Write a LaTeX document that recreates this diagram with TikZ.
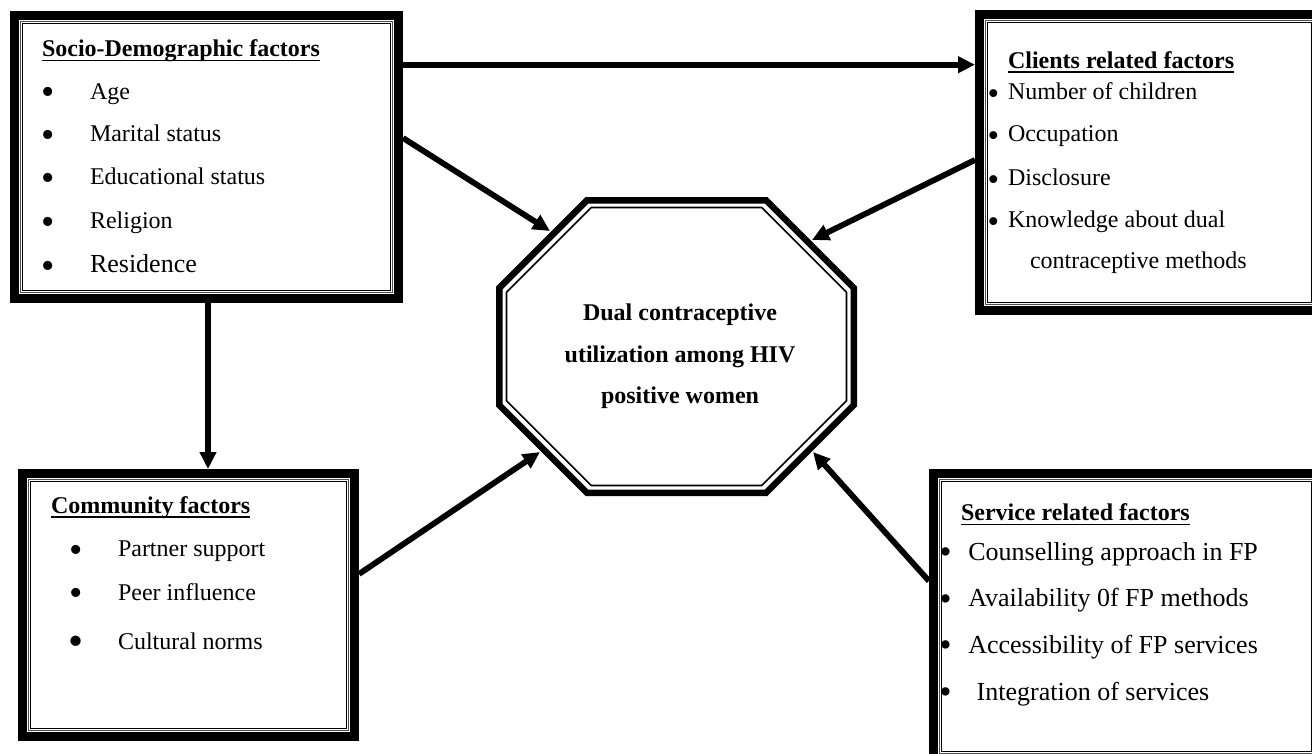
\documentclass[tikz,border=0pt]{standalone}
\usepackage{fontspec}
\setmainfont{Liberation Serif}
\usetikzlibrary{arrows.meta,calc}
\tikzset{
  boxnode/.style={draw=none, rectangle, inner sep=0pt, outer sep=0pt},
  txt/.style={inner sep=0pt, outer sep=0pt, anchor=base west, font=\fontsize{24}{28}\selectfont},
  bigtxt/.style={inner sep=0pt, outer sep=0pt, anchor=base west, font=\fontsize{26}{30}\selectfont},
  ttl/.style={inner sep=0pt, outer sep=0pt, anchor=base west, font=\fontsize{24}{28}\selectfont\bfseries},
  octtxt/.style={inner sep=0pt, outer sep=0pt, anchor=base, font=\fontsize{24}{28}\selectfont\bfseries},
  bul/.style={inner sep=0pt, outer sep=0pt, anchor=base, yshift=-5.9pt, font=\fontsize{38}{40}\selectfont},
  smallbul/.style={inner sep=0pt, outer sep=0pt, anchor=base, yshift=-5pt, font=\fontsize{33}{36}\selectfont},
  servbul/.style={inner sep=0pt, outer sep=0pt, anchor=base, yshift=-3.5pt, font=\fontsize{35}{38}\selectfont},
  bigbul/.style={inner sep=0pt, outer sep=0pt, anchor=base, yshift=-6pt, font=\fontsize{43}{45}\selectfont},
  arr/.style={line width=5.8pt, -{Triangle[length=17pt, width=16pt]}},
  uline/.style={line width=1.4pt},
  outerline/.style={line width=9pt, line join=miter},
  midline/.style={line width=0.9pt, draw=black!70},
  innerline/.style={line width=1.3pt},
}
\newcommand\tripframe[1]{%
  \draw[outerline] ([shift={(4.5,4.5)}]#1.north west) rectangle ([shift={(-4.5,-4.5)}]#1.south east);
  \draw[midline] ([shift={(10.5,10.5)}]#1.north west) rectangle ([shift={(-10.5,-10.5)}]#1.south east);
  \draw[innerline] ([shift={(12.8,12.8)}]#1.north west) rectangle ([shift={(-12.8,-12.8)}]#1.south east);
}
\newcommand\ttlline[1]{%
  \draw[uline] ([yshift=-3.6pt]#1.base west) -- ([yshift=-3.6pt]#1.base east);
}
\begin{document}
\begin{tikzpicture}[x=1pt, y=-1pt]
\useasboundingbox (0,0) rectangle (1312,753);
\fill[white] (0,0) rectangle (1312,753);
\clip (0,0) rectangle (1312,753);

% boxes
\node[boxnode, minimum width=393pt, minimum height=292pt] (socio) at (206.5,157) {};
\node[boxnode, minimum width=349pt, minimum height=305pt] (clients) at (1149.5,162.5) {};
\node[boxnode, minimum width=341pt, minimum height=272pt] (comm) at (188.5,605) {};
\node[boxnode, minimum width=395pt, minimum height=295pt] (serv) at (1126.5,616.5) {};
\tripframe{socio}
\tripframe{clients}
\tripframe{comm}
\tripframe{serv}

% octagon
\node[boxnode, minimum width=361pt, minimum height=299pt] (oct) at (676.5,346.5) {};
\draw[line width=6.5pt, line join=miter] (586.9,200.25) -- (766.1,200.25) -- (853.75,287.9) -- (853.75,405.1) -- (766.1,492.75) -- (586.9,492.75) -- (499.25,405.1) -- (499.25,287.9) -- cycle;
\draw[line width=1.6pt, line join=miter] (591.15,207.5) -- (761.85,207.5) -- (846.5,292.15) -- (846.5,400.85) -- (761.85,485.5) -- (591.15,485.5) -- (506.5,400.85) -- (506.5,292.15) -- cycle;
\node[octtxt] (o1) at (680,320) {Dual contraceptive};
\node[octtxt] (o2) at (680,362.5) {utilization among HIV};
\node[octtxt] (o3) at (680,403.5) {positive women};
\coordinate (tNW) at (550,231);
\coordinate (tNE) at (812,240);
\coordinate (tSW) at (540,452);
\coordinate (tSE) at (813,452);

% socio-demographic text
\node[ttl] (s0) at (42,56.7) {Socio-Demographic factors};
\ttlline{s0}
\node[bul] (sb1) at (48,99) {•};
\node[bul] (sb2) at (48,141.7) {•};
\node[bul] (sb3) at (48,184.3) {•};
\node[bul] (sb4) at (48,228.3) {•};
\node[bul] (sb5) at (48,272.7) {•};
\node[txt] (s1) at (90,99) {Age};
\node[txt] (s2) at (90,141.7) {Marital status};
\node[txt] (s3) at (90,184.3) {Educational status};
\node[txt] (s4) at (90,228.3) {Religion};
\node[bigtxt] (s5) at (90,272.7) {Residence};

% clients text
\node[ttl] (c0) at (1008,68.3) {Clients related factors};
\ttlline{c0}
\node[smallbul] (cb1) at (993.3,99) {•};
\node[smallbul] (cb2) at (993.3,141.7) {•};
\node[smallbul] (cb3) at (993.3,185) {•};
\node[smallbul] (cb4) at (993.3,227.7) {•};
\node[txt] (c1) at (1008,99) {Number of children};
\node[txt] (c2) at (1008,141.7) {Occupation};
\node[txt] (c3) at (1008,185) {Disclosure};
\node[txt] (c4) at (1008,227.7) {Knowledge about dual};
\node[txt] (c5) at (1030,268.3) {contraceptive methods};

% community text
\node[ttl] (m0) at (51,513.3) {Community factors};
\ttlline{m0}
\node[bul] (mb1) at (76,556.7) {•};
\node[bul] (mb2) at (76,600) {•};
\node[bigbul] (mb3) at (76,649.3) {•};
\node[txt] (m1) at (118,556.7) {Partner support};
\node[txt] (m2) at (118,600) {Peer influence};
\node[txt] (m3) at (118,649.3) {Cultural norms};

% service text
\node[ttl] (v0) at (961,520.7) {Service related factors};
\ttlline{v0}
\node[servbul] (vb1) at (945.5,560) {•};
\node[servbul] (vb2) at (945.5,606.7) {•};
\node[servbul] (vb3) at (945.5,653.3) {•};
\node[servbul] (vb4) at (945.5,700) {•};
\node[bigtxt] (v1) at (968.3,560) {Counselling approach in FP};
\node[bigtxt] (v2) at (968.3,606.7) {Availability 0f FP methods};
\node[bigtxt] (v3) at (968.3,653.3) {Accessibility of FP services};
\node[bigtxt] (v4) at (976.7,700) {Integration of services};

% arrows
\draw[arr] ([yshift=-53.7pt]socio.north east) -- ([yshift=-54.7pt]clients.north west);
\draw[arr] ([yshift=-127pt]socio.north east) -- (tNW);
\draw[arr] ([yshift=-150pt]clients.north west) -- (tNE);
\draw[arr] ([xshift=1.5pt]socio.south) -- ([xshift=19.5pt]comm.north);
\draw[arr] ([yshift=-105pt]comm.north east) -- (tSW);
\draw[arr] ([yshift=-112pt]serv.north west) -- (tSE);
\end{tikzpicture}
\end{document}
